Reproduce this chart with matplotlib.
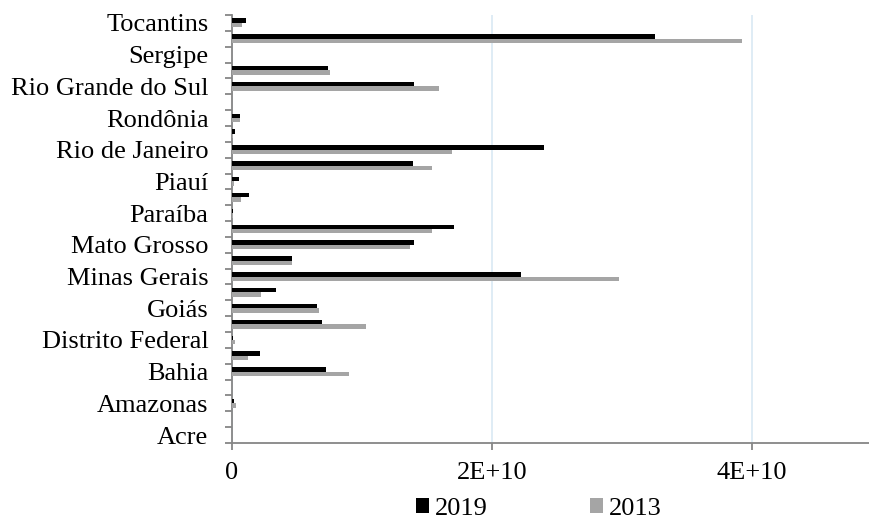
import numpy as np
import matplotlib
matplotlib.use('Agg')
import matplotlib.pyplot as plt
from matplotlib.ticker import FixedLocator, NullFormatter

# states, bottom to top (order of the source sheet)
states = ['Acre', 'Alagoas', 'Amazonas', 'Amapá', 'Bahia', 'Ceará', 'Distrito Federal',
          'Espírito Santo', 'Goiás', 'Maranhão', 'Minas Gerais', 'Mato Grosso do Sul',
          'Mato Grosso', 'Pará', 'Paraíba', 'Pernambuco', 'Piauí', 'Paraná',
          'Rio de Janeiro', 'Rio Grande do Norte', 'Rondônia', 'Roraima',
          'Rio Grande do Sul', 'Santa Catarina', 'Sergipe', 'São Paulo', 'Tocantins']

# values in units of 1E9
v2019 = [0, 0, 0.15, 0, 7.2, 2.15, 0.05, 6.9, 6.5, 3.4, 22.2, 4.6, 14.0, 17.1, 0.1,
         1.3, 0.55, 13.9, 24.0, 0.2, 0.6, 0, 14.0, 7.4, 0, 32.5, 1.1]
v2013 = [0, 0, 0.3, 0, 9.0, 1.25, 0.2, 10.3, 6.7, 2.2, 29.8, 4.6, 13.7, 15.4, 0.05,
         0.7, 0.15, 15.4, 16.9, 0.1, 0.6, 0, 15.9, 7.5, 0, 39.2, 0.75]

xticks = [0, 2e10, 4e10]
xtick_labels = ['0', '2E+10', '4E+10']

plt.rcParams['font.family'] = ['Liberation Serif', 'DejaVu Serif']
fs = 19

W, H = 869, 520
fig = plt.figure(figsize=(W / 100, H / 100), dpi=100)
left, right, top, bottom = 232, 869, 15, 443
ax = fig.add_axes([left / W, 1 - bottom / H, (right - left) / W, (bottom - top) / H])

y = np.arange(len(states))
h = 0.28
ax.barh(y + h / 2, np.array(v2019) * 1e9, height=h, color='#000000', label='2019', zorder=3)
ax.barh(y - h / 2, np.array(v2013) * 1e9, height=h, color='#A5A5A5', label='2013', zorder=3)

ax.set_xlim(0, (right - left) / 260 * 2e10)
ax.set_ylim(-0.5, len(states) - 0.5)

axis_col = '#868686'
for s in ['top', 'right']:
    ax.spines[s].set_visible(False)
for s in ['left', 'bottom']:
    ax.spines[s].set_color(axis_col)
    ax.spines[s].set_linewidth(1.3)

ax.set_xticks(xticks)
ax.set_xticklabels(xtick_labels, fontsize=fs)
ax.tick_params(axis='x', length=5, width=1.3, color=axis_col, pad=9)
ax.xaxis.grid(True, color='#DCEAF4', linewidth=1.3, zorder=0)

# category boundary ticks, labels on every other category
ax.yaxis.set_major_locator(FixedLocator(np.arange(-0.5, len(states), 1.0)))
ax.yaxis.set_major_formatter(NullFormatter())
ax.yaxis.set_minor_locator(FixedLocator(y[::2]))
ax.set_yticklabels([states[i] for i in y[::2]], minor=True, fontsize=fs)
ax.tick_params(axis='y', which='major', length=5, width=1.3, color=axis_col)
ax.tick_params(axis='y', which='minor', length=0, pad=17)

fig.legend(loc='center', bbox_to_anchor=(0.62, 0.022), ncol=2, frameon=False,
           fontsize=fs, handlelength=0.5, handleheight=0.5, handletextpad=0.2,
           columnspacing=3.9, borderaxespad=0, borderpad=0)

fig.savefig('out.png', dpi=100)
